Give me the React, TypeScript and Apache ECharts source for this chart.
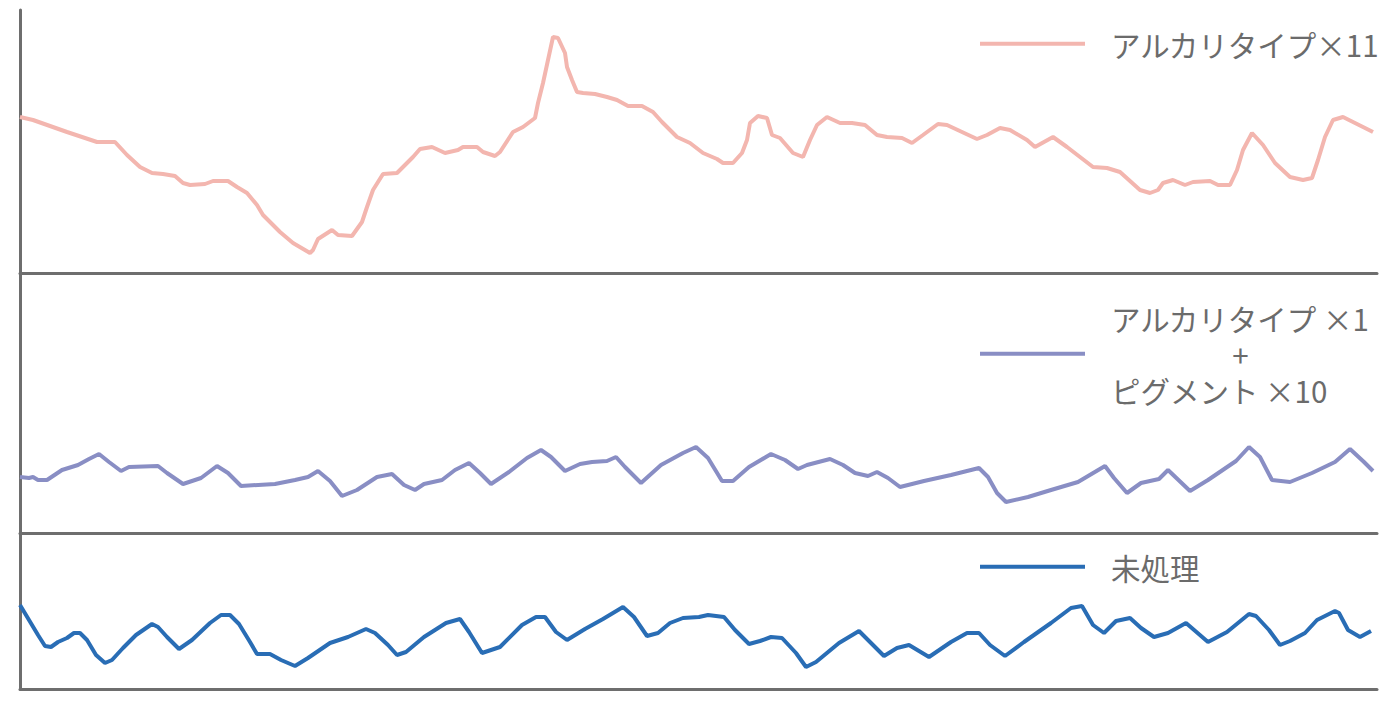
import React, { useEffect, useRef } from "react";
import * as echarts from "echarts";

// Sample index (time) and signal level
const alkT = [0,13,47,77,95,107,120,132,143,155,163,170,185,193,208,217,227,237,243,260,273,290,293,298,312,318,332,342,347,353,363,377,393,400,412,425,438,443,457,463,475,480,493,503,515,518,523,528,533,538,545,547,552,557,563,575,587,597,608,622,633,642,657,670,683,697,703,713,722,727,730,738,747,752,760,773,783,790,797,807,820,832,845,857,867,882,892,903,918,927,957,967,980,990,1007,1015,1033,1047,1060,1073,1087,1100,1120,1130,1138,1143,1153,1165,1173,1190,1198,1210,1217,1223,1232,1243,1255,1270,1283,1292,1298,1305,1313,1323,1333,1345,1353];
const alkV = [15.6,15.3,14.1,13.1,13.1,11.8,10.6,10.0,9.9,9.7,9.0,8.8,8.9,9.2,9.2,8.6,8.0,6.8,5.8,4.1,3.0,2.0,2.3,3.4,4.3,3.8,3.7,5.1,6.6,8.3,9.9,10.0,11.6,12.4,12.6,12.0,12.3,12.6,12.6,12.1,11.7,12.1,14.1,14.6,15.5,17.0,19.0,21.3,23.6,23.5,22.0,20.6,19.3,18.1,18.0,17.9,17.6,17.3,16.7,16.7,16.1,15.1,13.6,13.0,12.0,11.4,11.0,11.0,12.0,13.3,15.0,15.7,15.5,13.8,13.5,12.0,11.6,13.3,14.8,15.6,15.0,15.0,14.8,13.8,13.6,13.5,13.0,13.8,14.9,14.8,13.4,13.8,14.5,14.3,13.3,12.6,13.6,12.6,11.6,10.6,10.5,10.1,8.3,8.0,8.3,9.0,9.3,8.8,9.1,9.2,8.8,8.8,10.3,12.3,14.0,12.8,11.0,9.6,9.3,9.5,11.3,13.6,15.3,15.6,15.1,14.5,14.1];

const mixT = [0,9,13,18,27,42,58,69,79,89,101,109,138,147,163,181,197,208,221,255,275,288,298,310,322,337,357,372,384,395,404,422,435,449,460,471,489,507,521,531,545,560,572,587,596,605,621,641,663,676,688,702,713,729,751,765,778,787,810,823,835,848,857,868,880,904,931,959,968,977,986,1008,1031,1058,1085,1094,1107,1121,1139,1148,1170,1188,1216,1229,1240,1252,1270,1292,1315,1330,1344,1353];
const mixV = [5.6,5.5,5.6,5.3,5.3,6.3,6.8,7.4,7.9,7.1,6.2,6.6,6.7,6.0,4.9,5.5,6.7,6.0,4.7,4.9,5.3,5.6,6.2,5.2,3.7,4.3,5.6,5.9,4.8,4.3,4.9,5.3,6.3,7.0,6.0,4.9,6.1,7.5,8.3,7.6,6.2,6.9,7.1,7.2,7.6,6.6,5.0,6.8,8.0,8.6,7.5,5.2,5.2,6.6,7.9,7.3,6.4,6.8,7.4,6.8,6.0,5.7,6.1,5.5,4.6,5.2,5.8,6.5,5.6,4.0,3.1,3.6,4.3,5.1,6.7,5.5,4.0,5.0,5.4,6.3,4.2,5.3,7.2,8.6,7.6,5.3,5.1,6.0,7.1,8.4,7.1,6.2];

const rawT = [0,9,18,25,31,38,47,54,60,67,76,85,92,103,116,132,138,147,159,172,190,201,210,219,230,237,250,261,275,288,310,328,346,355,368,377,386,404,426,440,449,462,480,502,516,525,536,547,565,583,603,614,627,638,650,663,679,688,704,715,729,740,751,762,776,786,796,819,839,848,864,877,889,909,931,947,959,970,985,1004,1031,1051,1062,1073,1084,1096,1110,1121,1134,1148,1166,1188,1207,1229,1236,1249,1260,1270,1285,1297,1315,1319,1328,1340,1351];
const rawV = [8.4,6.9,5.4,4.3,4.2,4.7,5.1,5.6,5.6,4.9,3.4,2.6,2.9,4.1,5.4,6.5,6.2,5.2,4.0,4.9,6.6,7.4,7.4,6.5,4.7,3.5,3.5,2.9,2.3,3.1,4.6,5.2,6.0,5.6,4.4,3.4,3.7,5.2,6.6,7.0,5.7,3.6,4.2,6.4,7.2,7.2,5.7,4.9,6.0,7.0,8.2,7.2,5.3,5.6,6.6,7.1,7.2,7.4,7.2,5.9,4.5,4.8,5.2,5.1,3.6,2.2,2.7,4.6,5.8,4.9,3.3,4.1,4.4,3.2,4.7,5.6,5.6,4.4,3.3,4.7,6.6,8.1,8.3,6.4,5.6,6.8,7.1,6.1,5.2,5.6,6.6,4.7,5.7,7.5,7.3,5.9,4.4,4.8,5.6,6.9,7.8,7.6,5.9,5.2,5.8];

const seriesNames = ["アルカリタイプ×11", "アルカリタイプ ×1\n+\nピグメント ×10", "未処理"];
const seriesColors = ["#f3b6af", "#898ec4", "#296db5"];
const yMax = [26.3, 25.9, 15.5];
const xMax = 1357;

const FONT = "'Noto Sans CJK JP', 'Noto Sans', sans-serif";
const AXIS = "#6e6e6e";
const TEXT = "#6b6b6b";
const FS = 29.5;

export default function App() {
  const ref = useRef<HTMLDivElement>(null);
  useEffect(() => {
    if (!ref.current) return;
    const chart = echarts.init(ref.current, undefined, { renderer: "svg" });
    const pairs = (t: number[], v: number[]) => t.map((x, i) => [x, v[i]]);
    const data = [pairs(alkT, alkV), pairs(mixT, mixV), pairs(rawT, rawV)];
    const grids = [
      { left: 20, top: 10, width: 1357, height: 263 },
      { left: 20, top: 274, width: 1357, height: 259 },
      { left: 20, top: 534, width: 1357, height: 155 },
    ];
    const axisLine = { show: true, lineStyle: { color: AXIS, width: 3 } };
    const legendBase = {
      left: 975,
      icon: "rect",
      itemWidth: 105,
      itemHeight: 4,
      selectedMode: false,
      textStyle: { color: TEXT, fontSize: FS, fontFamily: FONT, padding: [0, 0, 0, 21] },
    };
    chart.setOption({
      animation: false,
      backgroundColor: "#ffffff",
      grid: grids,
      xAxis: grids.map((_, i) => ({
        type: "value",
        gridIndex: i,
        min: 0,
        max: xMax,
        axisLine,
        axisTick: { show: false },
        axisLabel: { show: false },
        splitLine: { show: false },
      })),
      yAxis: grids.map((_, i) => ({
        type: "value",
        gridIndex: i,
        min: 0,
        max: yMax[i],
        axisLine,
        axisTick: { show: false },
        axisLabel: { show: false },
        splitLine: { show: false },
      })),
      legend: [
        { ...legendBase, top: 24, data: [seriesNames[0]] },
        {
          ...legendBase,
          top: 298,
          data: [seriesNames[1]],
          formatter: () => "{a|アルカリタイプ ×1}\n{b|+}\n{a|ピグメント ×10}",
          textStyle: {
            ...legendBase.textStyle,
            rich: {
              a: { fontSize: FS, lineHeight: 36, color: TEXT, fontFamily: FONT },
              b: { fontSize: FS, lineHeight: 36, color: TEXT, fontFamily: FONT, width: 256, align: "center" },
            },
          },
        },
        { ...legendBase, top: 547, data: [seriesNames[2]] },
      ],
      series: data.map((d, i) => ({
        name: seriesNames[i],
        type: "line",
        xAxisIndex: i,
        yAxisIndex: i,
        data: d,
        symbol: "none",
        color: seriesColors[i],
        lineStyle: { color: seriesColors[i], width: 4 },
      })),
    });
    return () => chart.dispose();
  }, []);
  return (
    <div
      ref={ref}
      style={{ position: "fixed", left: 0, top: 0, width: 1397, height: 707, background: "#fff" }}
    />
  );
}
